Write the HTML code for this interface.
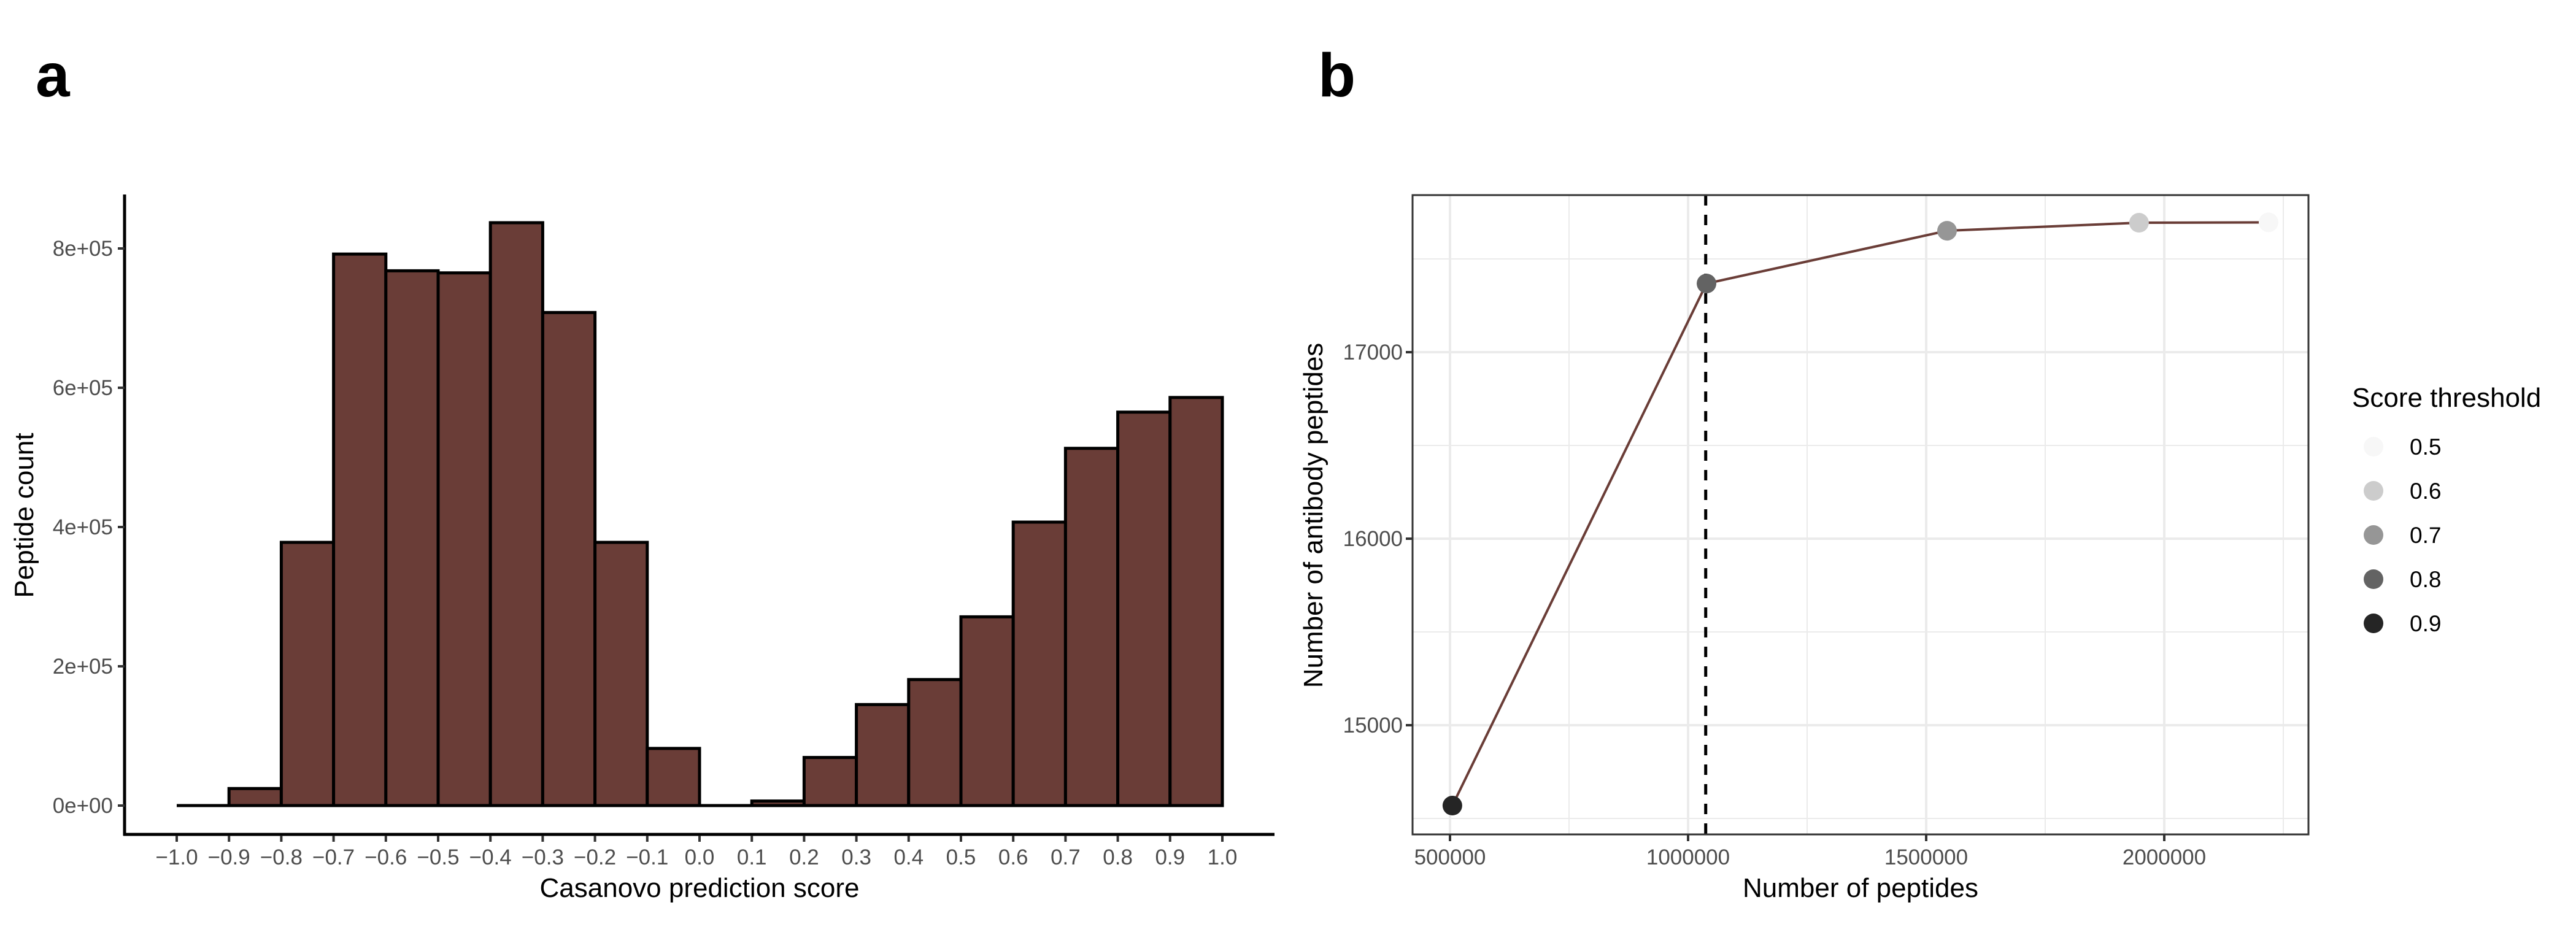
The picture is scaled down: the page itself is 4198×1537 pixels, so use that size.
<!DOCTYPE html>
<html><head><meta charset="utf-8"><style>
html,body{margin:0;padding:0;background:#fff;}
svg{display:block;font-family:"Liberation Sans",Arial,sans-serif;}
</style></head><body>
<svg id="fig" width="4198" height="1537" viewBox="0 0 4198 1537" xmlns="http://www.w3.org/2000/svg">
<rect x="0" y="0" width="4198" height="1537" fill="#fff"/>
<text x="58" y="157" font-size="100" font-weight="bold" fill="#000">a</text>
<text x="2148" y="157" font-size="100" font-weight="bold" fill="#000">b</text>
<g id="pa"></g>
<g id="pb"></g>
</svg>
<script>
// Panel a data
const binStarts = [-1.0,-0.9,-0.8,-0.7,-0.6,-0.5,-0.4,-0.3,-0.2,-0.1,0.0,0.1,0.2,0.3,0.4,0.5,0.6,0.7,0.8,0.9];
const binCounts = [0,24500,378000,792000,768000,765000,837000,708000,378000,82000,0,6500,69000,145000,181000,271000,407000,513000,565000,586000];
const xTicksA = [-1.0,-0.9,-0.8,-0.7,-0.6,-0.5,-0.4,-0.3,-0.2,-0.1,0.0,0.1,0.2,0.3,0.4,0.5,0.6,0.7,0.8,0.9,1.0];
const yTicksA = [0,200000,400000,600000,800000];
const yTickLabelsA = ["0e+00","2e+05","4e+05","6e+05","8e+05"];
// Panel b data
const thresholds = ["0.5","0.6","0.7","0.8","0.9"];
const numPeptides = [2219000,1947000,1543800,1038700,505000];
const antibodyPeptides = [17696,17694,17651,17368,14569];
const pointColors = ["#f7f7f7","#cccccc","#969696","#636363","#252525"];
const cutoffX = 1037000;
const xTicksB = [500000,1000000,1500000,2000000];
const xMinorB = [750000,1250000,1750000,2250000];
const yTicksB = [15000,16000,17000];
const yMinorB = [14500,15500,16500,17500];

const NS="http://www.w3.org/2000/svg";
function mk(parent,tag,attrs,text){const e=document.createElementNS(NS,tag);for(const k in attrs)e.setAttribute(k,attrs[k]);if(text!==undefined)e.textContent=text;parent.appendChild(e);return e;}

// ---- Panel a ----
const pa=document.getElementById('pa');
const ax=v=>288+(v+1.0)/0.1*85.2;
const ay=v=>1313-v*(908/800000);
let el;
binStarts.forEach((b,i)=>{
  const x0=ax(b),x1=ax(b+0.1),y=ay(binCounts[i]);
  const d='M'+x0+','+1313+' L'+x0+','+y+' L'+x1+','+y+' L'+x1+','+1313+' Z';
  el=mk(pa,'path',{d:d,fill:'#6a3d37',stroke:'#000','stroke-width':5,'stroke-linejoin':'miter'});
  
  
});
el=mk(pa,'line',{x1:203,y1:317,x2:203,y2:1362,stroke:'#000','stroke-width':5});


el=mk(pa,'line',{x1:201,y1:1360,x2:2077,y2:1360,stroke:'#000','stroke-width':5});


xTicksA.forEach(t=>{
  const x=ax(t);
  el=mk(pa,'line',{x1:x,y1:1362,x2:x,y2:1372,stroke:'#333','stroke-width':4});
  
  
  el=mk(pa,'text',{x:x,y:1409,'font-size':35,fill:'#4d4d4d','text-anchor':'middle'},(t<0?'\u2212':'')+Math.abs(t).toFixed(1));
  
  
});
yTicksA.forEach((t,i)=>{
  const y=ay(t);
  el=mk(pa,'line',{x1:192,y1:y,x2:203,y2:y,stroke:'#333','stroke-width':4});
  
  
  el=mk(pa,'text',{x:184,y:y+12,'font-size':35,fill:'#4d4d4d','text-anchor':'end'},yTickLabelsA[i]);
  
  
});
el=mk(pa,'text',{x:1140,y:1462,'font-size':44,fill:'#000','text-anchor':'middle'},'Casanovo prediction score');


el=mk(pa,'text',{x:0,y:0,'font-size':44,fill:'#000','text-anchor':'middle',transform:'translate(54,840) rotate(-90)'},'Peptide count');



// ---- Panel b ----
const pb=document.getElementById('pb');
const L=2302,R=3762,T=318,B=1360;
const bx=v=>2363+(v-500000)*(388/500000);
const by=v=>1182-(v-15000)*(304/1000);
xMinorB.forEach(v=>{el=mk(pb,'line',{x1:bx(v),y1:T,x2:bx(v),y2:B,stroke:'#ebebeb','stroke-width':2});
  
  });
yMinorB.forEach(v=>{el=mk(pb,'line',{x1:L,y1:by(v),x2:R,y2:by(v),stroke:'#ebebeb','stroke-width':2});
  
  });
xTicksB.forEach(v=>{el=mk(pb,'line',{x1:bx(v),y1:T,x2:bx(v),y2:B,stroke:'#ebebeb','stroke-width':4});
  
  });
yTicksB.forEach(v=>{el=mk(pb,'line',{x1:L,y1:by(v),x2:R,y2:by(v),stroke:'#ebebeb','stroke-width':4});
  
  });
el=mk(pb,'line',{x1:bx(cutoffX),y1:T,x2:bx(cutoffX),y2:B,stroke:'#000','stroke-width':5,'stroke-dasharray':'17 15'});


const pts=numPeptides.map((v,i)=>bx(v)+','+by(antibodyPeptides[i])).join(' ');
el=mk(pb,'polyline',{points:pts,fill:'none',stroke:'#6a3d37','stroke-width':4});


numPeptides.forEach((v,i)=>{
  el=mk(pb,'circle',{cx:bx(v),cy:by(antibodyPeptides[i]),r:16,fill:pointColors[i]});
  
  
});
el=mk(pb,'rect',{x:L,y:T,width:R-L,height:B-T,fill:'none',stroke:'#333','stroke-width':3});


xTicksB.forEach(v=>{
  el=mk(pb,'line',{x1:bx(v),y1:B,x2:bx(v),y2:B+11,stroke:'#333','stroke-width':4});
  
  
  el=mk(pb,'text',{x:bx(v),y:1409,'font-size':35,fill:'#4d4d4d','text-anchor':'middle'},String(v));
  
  
});
yTicksB.forEach(v=>{
  el=mk(pb,'line',{x1:L-11,y1:by(v),x2:L,y2:by(v),stroke:'#333','stroke-width':4});
  
  
  el=mk(pb,'text',{x:L-16,y:by(v)+12,'font-size':35,fill:'#4d4d4d','text-anchor':'end'},String(v));
  
  
});
el=mk(pb,'text',{x:3032,y:1462,'font-size':44,fill:'#000','text-anchor':'middle'},'Number of peptides');


el=mk(pb,'text',{x:0,y:0,'font-size':44,fill:'#000','text-anchor':'middle',transform:'translate(2155,840) rotate(-90)'},'Number of antibody peptides');


// legend
el=mk(pb,'text',{x:3833,y:663,'font-size':44,fill:'#000'},'Score threshold');


thresholds.forEach((t,i)=>{
  const y=728+i*72;
  el=mk(pb,'circle',{cx:3868,cy:y,r:16,fill:pointColors[i]});
  
  
  el=mk(pb,'text',{x:3927,y:y+13,'font-size':37,fill:'#000'},t);
  
  
});
</script>
</body></html>
